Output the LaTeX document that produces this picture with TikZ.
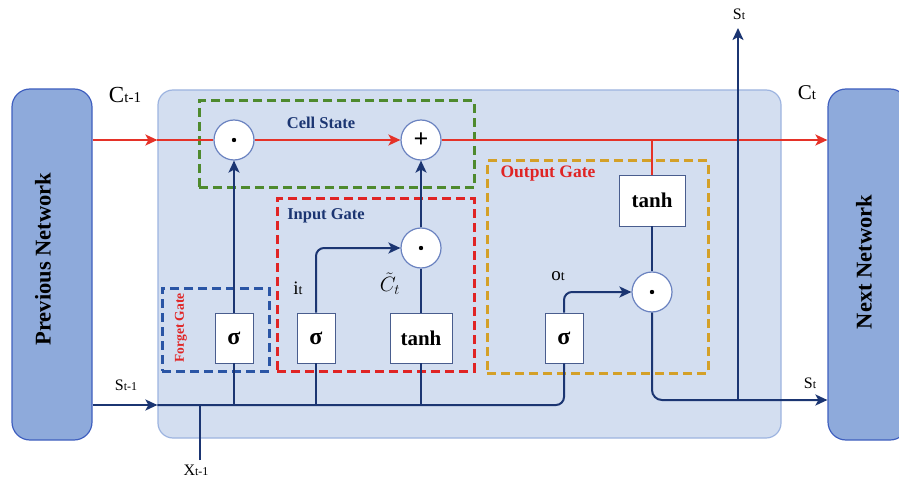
\documentclass[tikz,border=0pt]{standalone}
\usepackage{fontspec}
\usepackage{amsmath,amssymb}
\setmainfont{Liberation Serif}
\usetikzlibrary{arrows.meta,positioning,calc}
\definecolor{lCell}{HTML}{D3DEF0}
\definecolor{lCellDraw}{HTML}{9DB4E0}
\definecolor{lNet}{HTML}{8EAADB}
\definecolor{lNetDraw}{HTML}{3F5FBF}
\definecolor{lRed}{HTML}{E53228}
\definecolor{lDark}{HTML}{1B3572}
\definecolor{lCirc}{HTML}{6A82C0}
\definecolor{lGreen}{HTML}{4E8A2E}
\definecolor{lGateRed}{HTML}{E02424}
\definecolor{lGateBlue}{HTML}{2A55A5}
\definecolor{lOrange}{HTML}{D4A028}
\newcommand{\lsub}[3]{#1{\fontsize{#3}{#3}\selectfont #2}}
\tikzset{
  net/.style   = {draw=lNetDraw, fill=lNet, rounded corners=18pt, line width=1.2pt,
                  minimum width=80pt, minimum height=351pt, inner sep=0pt},
  cellbox/.style = {draw=lCellDraw, fill=lCell, rounded corners=15pt, line width=1.2pt,
                  minimum width=623pt, minimum height=348pt, inner sep=0pt},
  gbox/.style  = {draw=lDark!80, fill=white, line width=0.8pt, inner sep=0pt,
                  minimum width=38pt, minimum height=50pt,
                  font=\fontsize{24}{24}\selectfont\bfseries},
  tbox/.style  = {gbox, minimum width=62pt, font=\fontsize{21}{21}\selectfont\bfseries},
  op/.style    = {circle, draw=lCirc, fill=white, line width=1.2pt, minimum size=40pt,
                  inner sep=0pt, font=\fontsize{26}{26}\selectfont\bfseries},
  mul/.style   = {op, path picture={\fill[black] (path picture bounding box.center) circle (2.2pt);}},
  grp/.style   = {dash pattern=on 9pt off 5pt, line width=3pt, inner sep=0pt},
  cl/.style    = {draw=lRed, line width=1.8pt},
  ca/.style    = {cl, -{Stealth[length=12pt,width=11pt,inset=3pt]}},
  sl/.style    = {draw=lDark, line width=2pt},
  sa/.style    = {sl, -{Stealth[length=12pt,width=11pt,inset=3pt]}},
  glbl/.style  = {font=\fontsize{16.5}{16.5}\selectfont\bfseries, inner sep=0pt},
  lbl/.style   = {font=\fontsize{19}{19}\selectfont, inner sep=0pt},
}
\begin{document}
\begin{tikzpicture}[x=1pt,y=-1pt]
  \useasboundingbox (0,0) rectangle (899,481);
  % the networks and the cell
  \node[net] (prev) at (52,264.5) {};
  \node[net] (next) at (868,264.5) {};
  \node[cellbox] (cell) at (469.5,264) {};
  \node[rotate=90, font=\fontsize{22.5}{22.5}\selectfont\bfseries] (prevtxt) at (43,259) {Previous Network};
  \node[rotate=90, font=\fontsize{22.5}{22.5}\selectfont\bfseries] (nexttxt) at (864,262) {Next Network};
  % dashed gate frames
  \node[grp, draw=lGreen, minimum width=275pt, minimum height=87pt] (cellgrp) at (336.5,144.5) {};
  \node[grp, draw=lGateRed, minimum width=197pt, minimum height=172pt] (ingrp) at (375.5,285) {};
  \node[grp, draw=lGateBlue, minimum width=107pt, minimum height=83pt] (fgrp) at (215.5,329.5) {};
  \node[grp, draw=lOrange, minimum width=221pt, minimum height=212pt] (outgrp) at (597.5,267) {};
  \node[glbl, text=lDark] (celltxt) at (321,123) {Cell State};
  \node[glbl, text=lDark] (intxt) at (326,216) {Input Gate};
  \node[glbl, text=lGateRed, font=\fontsize{17.5}{17.5}\selectfont\bfseries] (outtxt) at (548,174) {Output Gate};
  \node[glbl, text=lGateRed, rotate=90, font=\fontsize{13.5}{13.5}\selectfont\bfseries] (ftxt) at (181,328) {Forget Gate};
  % gates and operations
  \node[gbox] (fsig) at (234,338) {σ};
  \node[gbox] (isig) at (316,338) {σ};
  \node[tbox] (ctanh) at (421,338) {tanh};
  \node[gbox] (osig) at (564,338) {σ};
  \node[tbox, minimum width=66pt, minimum height=51pt] (otanh) at (652,200.5) {tanh};
  \node[mul] (fmul) at (234,140) {};
  \node[op] (add) at (421,140) {+};
  \node[mul] (imul) at (421,248) {};
  \node[mul] (omul) at (652,292) {};
  \coordinate (xj) at (200,405);
  \coordinate (xin) at (200,460);
  \coordinate (sj) at (738,400);
  \coordinate (stop) at (738,28);
  % cell state line
  \draw[ca] (prev.east |- fmul) -- (cell.west |- fmul);
  \draw[cl] (cell.west |- fmul) -- (fmul.west);
  \draw[ca] (fmul.east) -- (add.west);
  \draw[ca] (add.east) -- (next.west |- add);
  \draw[cl] (otanh.north) -- (otanh.north |- add);
  % hidden state lines
  \draw[sa] (prev.east |- xj) -- (cell.west |- xj);
  \draw[sl, rounded corners=8pt] (cell.west |- xj) -| (osig.south);
  \foreach \g in {fsig,isig,ctanh}
    \draw[sl] (\g.south) -- (\g.south |- xj);
  \draw[sl] (xin) -- (xj);
  \draw[sa] (fsig.north) -- (fmul.south);
  \draw[sa, rounded corners=8pt] (isig.north) |- (imul.west);
  \draw[sl] (ctanh.north) -- (imul.south);
  \draw[sa] (imul.north) -- (add.south);
  \draw[sa, rounded corners=8pt] (osig.north) |- (omul.west);
  \draw[sl] (otanh.south) -- (omul.north);
  \draw[sa, rounded corners=10pt] (omul.south) |- (sj) -- (sj -| next.west);
  \draw[sa] (sj) -- (stop);
  % labels
  \node[lbl, font=\fontsize{23}{23}\selectfont] (cprev) at (125,95) {\lsub{C}{t-1}{15}};
  \node[lbl, font=\fontsize{21}{21}\selectfont] (cnext) at (807,93) {\lsub{C}{t}{15}};
  \node[lbl, font=\fontsize{16}{16}\selectfont] (sprev) at (126,385) {\lsub{S}{t-1}{12}};
  \node[lbl, font=\fontsize{16}{16}\selectfont] (snext) at (810,383) {\lsub{S}{t}{12}};
  \node[lbl, font=\fontsize{16}{16}\selectfont] (stoptxt) at (739,14) {\lsub{S}{t}{12}};
  \node[lbl, font=\fontsize{16}{16}\selectfont] (xtxt) at (196,470) {\lsub{X}{t-1}{12}};
  \node[lbl] (itxt) at (298,288) {\lsub{i}{t}{14}};
  \node[lbl, font=\fontsize{22}{22}\selectfont] (cttxt) at (390,284) {$\tilde{C}_t$};
  \node[lbl] (otxt) at (558,276) {\lsub{o}{t}{14}};
\end{tikzpicture}
\end{document}
